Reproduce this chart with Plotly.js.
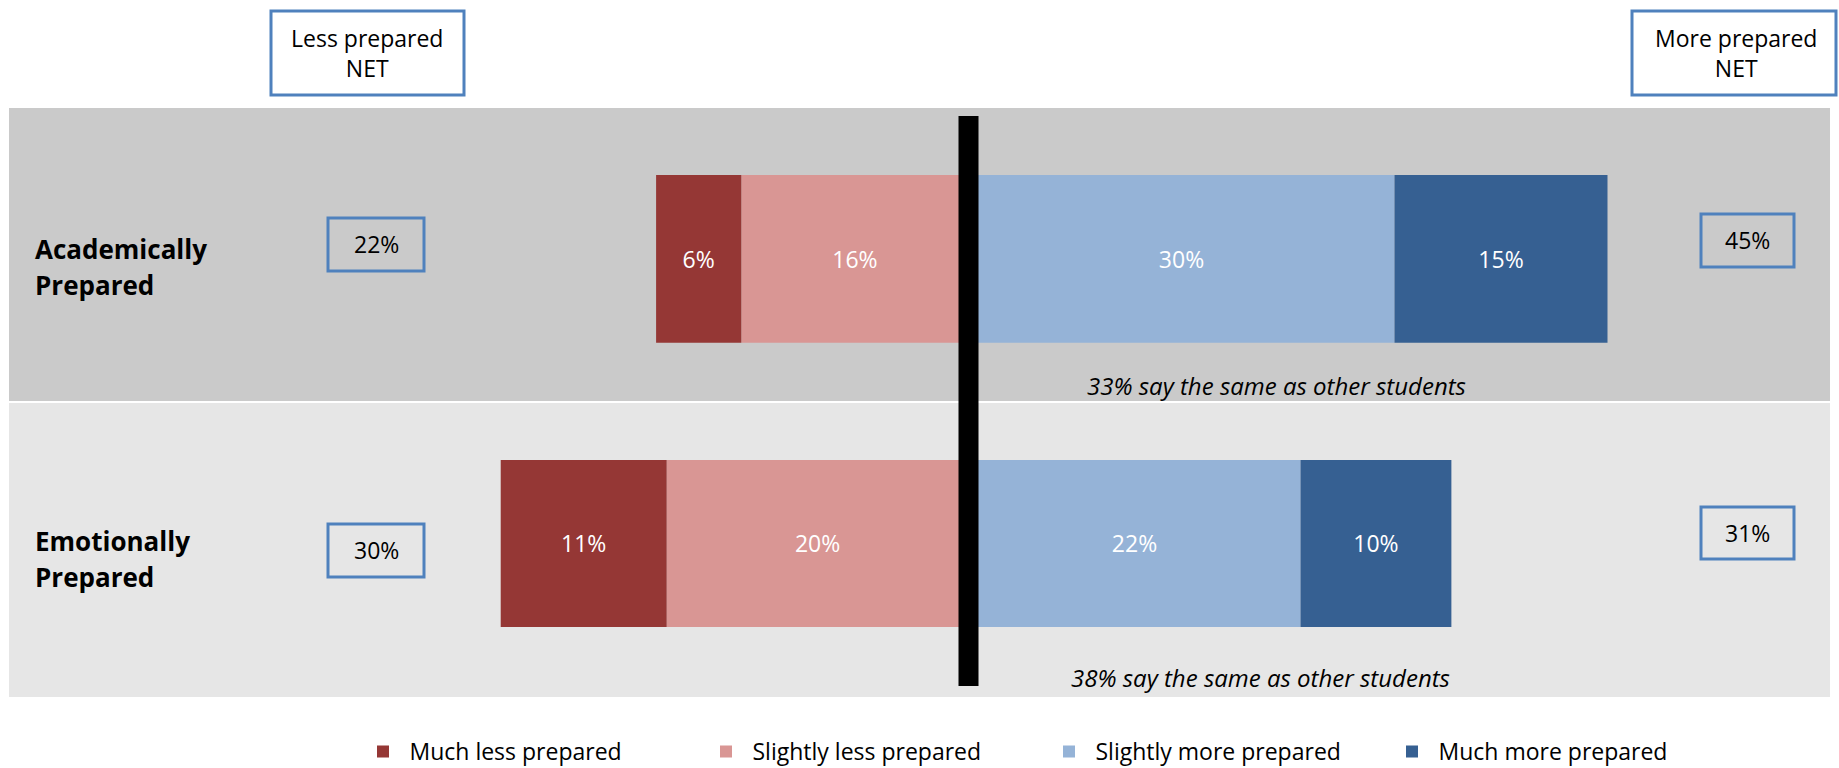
<!DOCTYPE html>
<html>
<head>
<meta charset="utf-8">
<script src="https://cdn.plot.ly/plotly-3.0.1.min.js"></script>
<style>html,body{margin:0;padding:0;background:#fff;overflow:hidden;}#wrap{width:1839px;height:768px;overflow:hidden;}</style>
</head>
<body>
<div id="wrap"><div id="chart"></div></div>
<script>
// ---- data ----
const categories = ['Academically Prepared', 'Emotionally Prepared'];
const muchLess = [6, 11];
const slightlyLess = [16, 20];
const slightlyMore = [30, 22];
const muchMore = [15, 10];
const lessNet = [22, 30];
const moreNet = [45, 31];
const sameAsOthers = [33, 38];
const seriesNames = ['Much less prepared', 'Slightly less prepared', 'Slightly more prepared', 'Much more prepared'];

// ---- style ----
const FONT = 'Open Sans, Noto Sans, sans-serif';
const colors = {
  'Much less prepared': '#953735',
  'Slightly less prepared': '#D99694',
  'Slightly more prepared': '#95B3D7',
  'Much more prepared': '#366092'
};
// figure is slightly taller than the visible 768px so the legend can sit low without pushing margins
const W = 1839, H = 773;
const px = v => v / W;
const py = v => 1 - v / H;

// series in stacking order (nearest centre first on each side)
const stackOrder = [
  {name: seriesNames[1], vals: slightlyLess, sign: -1, rank: 2},
  {name: seriesNames[0], vals: muchLess, sign: -1, rank: 1},
  {name: seriesNames[2], vals: slightlyMore, sign: 1, rank: 3},
  {name: seriesNames[3], vals: muchMore, sign: 1, rank: 4}
];

const traces = [];
categories.forEach((cat, i) => {
  const xa = i === 0 ? 'x' : 'x2';
  const ya = i === 0 ? 'y' : 'y2';
  stackOrder.forEach(s => {
    traces.push({
      type: 'bar',
      orientation: 'h',
      name: s.name,
      legendgroup: s.name,
      legendrank: s.rank,
      showlegend: i === 0,
      x: [s.sign * s.vals[i]],
      y: [0],
      width: [1],
      text: [s.vals[i] + '%'],
      textposition: 'inside',
      insidetextanchor: 'middle',
      textangle: 0,
      constraintext: 'none',
      textfont: {family: FONT, size: 23, color: '#FFFFFF'},
      marker: {color: colors[s.name], line: {width: 0}},
      hoverinfo: 'skip',
      xaxis: xa,
      yaxis: ya
    });
  });
});

const centre = 968.5;
const scale1 = 14.2, scale2 = 15.09;
const hidden = {showgrid: false, zeroline: false, showticklabels: false, showline: false, ticks: '', fixedrange: true};

const shapes = [
  // row bands
  {type: 'rect', xref: 'paper', yref: 'paper', x0: px(9), x1: px(1830), y0: py(401), y1: py(108), fillcolor: '#CACACA', line: {width: 0}, layer: 'below'},
  {type: 'rect', xref: 'paper', yref: 'paper', x0: px(9), x1: px(1830), y0: py(697), y1: py(403), fillcolor: '#E6E6E6', line: {width: 0}, layer: 'below'},
  // centre line
  {type: 'line', xref: 'x', yref: 'paper', x0: 0, x1: 0, y0: py(686), y1: py(116), line: {color: '#000000', width: 20}},
  // header boxes
  {type: 'rect', xref: 'paper', yref: 'paper', x0: px(271), x1: px(464), y0: py(95), y1: py(11), fillcolor: '#FFFFFF', line: {color: '#4F81BD', width: 3}},
  {type: 'rect', xref: 'paper', yref: 'paper', x0: px(1632), x1: px(1836), y0: py(95), y1: py(11), fillcolor: '#FFFFFF', line: {color: '#4F81BD', width: 3}},
  // NET value boxes
  {type: 'rect', xref: 'paper', yref: 'paper', x0: px(328), x1: px(424), y0: py(271), y1: py(218), fillcolor: 'rgba(0,0,0,0)', line: {color: '#4F81BD', width: 3}},
  {type: 'rect', xref: 'paper', yref: 'paper', x0: px(328), x1: px(424), y0: py(577), y1: py(524), fillcolor: 'rgba(0,0,0,0)', line: {color: '#4F81BD', width: 3}},
  {type: 'rect', xref: 'paper', yref: 'paper', x0: px(1701), x1: px(1794), y0: py(267), y1: py(214), fillcolor: 'rgba(0,0,0,0)', line: {color: '#4F81BD', width: 3}},
  {type: 'rect', xref: 'paper', yref: 'paper', x0: px(1701), x1: px(1794), y0: py(559), y1: py(507), fillcolor: 'rgba(0,0,0,0)', line: {color: '#4F81BD', width: 3}}
];

const ann = (text, x, y, opts) => Object.assign({
  text: text, xref: 'paper', yref: 'paper', x: px(x), y: py(y),
  xanchor: 'center', yanchor: 'middle', showarrow: false,
  font: {family: FONT, size: 23, color: '#000000'}
}, opts || {});

const annotations = [
  ann('Less prepared<br>NET', 367, 53),
  ann('More prepared<br>NET', 1736, 53),
  ann(lessNet[0] + '%', 376, 244),
  ann(lessNet[1] + '%', 376, 550),
  ann(moreNet[0] + '%', 1747.5, 240),
  ann(moreNet[1] + '%', 1747.5, 533),
  ann('<i>' + sameAsOthers[0] + '% say the same as other students</i>', 1276, 385, {font: {family: FONT, size: 24, color: '#000000'}}),
  ann('<i>' + sameAsOthers[1] + '% say the same as other students</i>', 1260, 677, {font: {family: FONT, size: 24, color: '#000000'}})
];
const rowLabelY = [[249, 285], [541, 577]];
categories.forEach((cat, i) => {
  const parts = cat.split(' ');
  parts.forEach((p, j) => {
    annotations.push(ann('<b>' + p + '</b>', 33, rowLabelY[i][j], {xanchor: 'left', font: {family: FONT, size: 26, color: '#000000'}}));
  });
});

const layout = {
  width: W, height: H,
  margin: {l: 0, r: 0, t: 0, b: 0, pad: 0},
  paper_bgcolor: '#FFFFFF',
  plot_bgcolor: 'rgba(0,0,0,0)',
  barmode: 'relative',
  showlegend: true,
  legend: {
    orientation: 'h', x: px(356.5), xanchor: 'left', y: 0, yanchor: 'bottom',
    entrywidth: 285, entrywidthmode: 'pixels', itemwidth: 43,
    font: {family: FONT, size: 23, color: '#000000'},
    bgcolor: 'rgba(0,0,0,0)', traceorder: 'normal'
  },
  xaxis: Object.assign({domain: [0, 1], range: [-centre / scale1, (W - centre) / scale1], anchor: 'y'}, hidden),
  yaxis: Object.assign({domain: [py(401), py(108)], range: [-0.848, 0.8995], anchor: 'x'}, hidden),
  xaxis2: Object.assign({domain: [0, 1], range: [-centre / scale2, (W - centre) / scale2], anchor: 'y2'}, hidden),
  yaxis2: Object.assign({domain: [py(697), py(403)], range: [-0.919, 0.841], anchor: 'x2'}, hidden),
  shapes: shapes,
  annotations: annotations,
  hovermode: false
};

Plotly.newPlot('chart', traces, layout, {displayModeBar: false, staticPlot: true});
</script>
</body>
</html>
